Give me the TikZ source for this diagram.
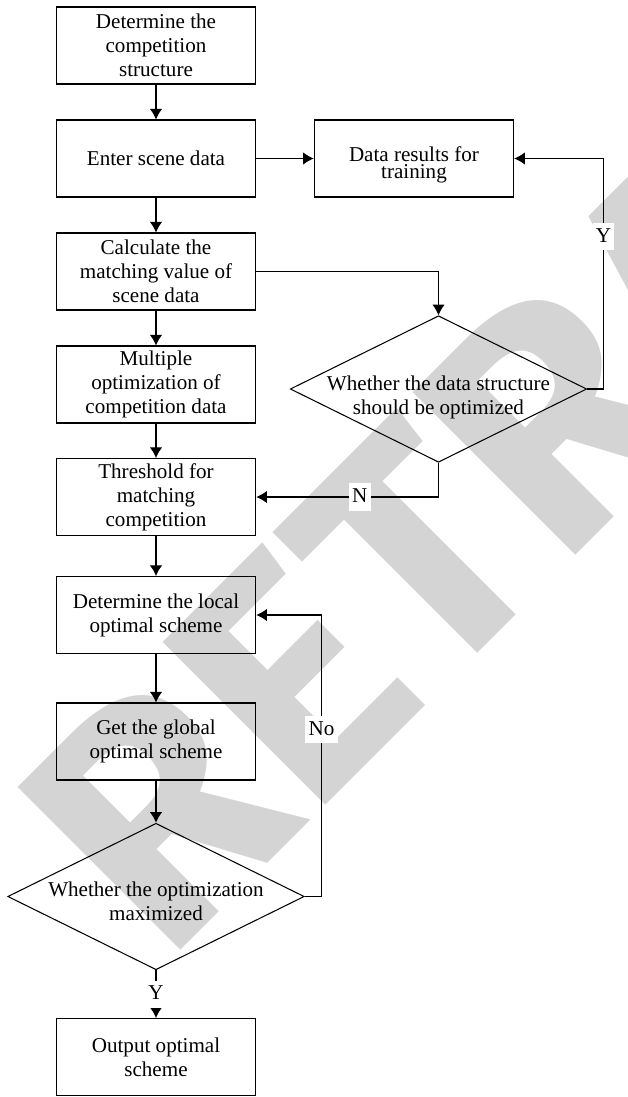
\documentclass[tikz,border=0pt]{standalone}
\usepackage{fontspec}
\setmainfont{Liberation Serif}
\newfontfamily\wmfont{Fira Sans}
\usetikzlibrary{shapes.geometric,arrows.meta}

\definecolor{wmgray}{RGB}{212,212,212}

\tikzset{
  box/.style={draw, rectangle, line width=0.6pt, minimum width=3.99cm,
    minimum height=1.54cm, align=center, inner sep=0pt},
  dia/.style={draw, diamond, line width=0.6pt, minimum width=5.93cm,
    minimum height=2.93cm, inner sep=0pt},
  txt/.style={align=center, inner sep=0pt},
  lbl/.style={fill=white, inner xsep=1.8pt, inner ysep=1.5pt,
    text height=9.5pt, text depth=3pt},
  arr/.style={->, >={Latex[length=6pt,width=7pt]}, line width=0.6pt},
  wm/.style={anchor=base west, rotate=45, inner sep=0pt, text=wmgray,
    font=\wmfont\bfseries\fontsize{189}{189}\selectfont}
}

\begin{document}
\begin{tikzpicture}[font=\fontsize{12}{13.6}\selectfont]

\useasboundingbox (0,0) rectangle (12.56,-21.94);

% watermark
\begin{scope}
\clip (0,0) rectangle (12.56,-21.94);
\node[wm] (wmark) at (3.30,-19.32) {RETRACTED};
\end{scope}

\node[box] (B1) at (3.12,-0.91)
{Determine the\\competition\\structure};%

\node[box] (B2) at (3.12,-3.17)
{Enter scene data};%

\node[box] (R) at (8.28,-3.17) {};%
\node[txt, font=\fontsize{12}{9.6}\selectfont] (Rt) at ([yshift=-0.12cm]R.center)
{Data results for\\training};%

\node[box] (B3) at (3.12,-5.43)
{Calculate the\\matching value of\\scene data};%

\node[box] (B4) at (3.12,-7.69)
{Multiple\\optimization of\\competition data};%

\node[box] (B5) at (3.12,-9.94)
{Threshold for\\matching\\competition};%

\node[box] (B6) at (3.12,-12.30)
{Determine the local\\optimal scheme};%

\node[box] (B7) at (3.12,-14.83)
{Get the global\\optimal scheme};%

\node[box] (B8) at (3.12,-21.14)
{Output optimal\\scheme};%


\node[dia] (D1) at (8.77,-7.78) {};%
\node[txt] (D1t) at ([yshift=-0.16cm]D1.center)
{Whether the data structure\\should be optimized};%

\node[dia] (D2) at (3.12,-17.93) {};%
\node[txt] (D2t) at ([yshift=-0.1cm]D2.center)
{Whether the optimization\\maximized};%

\coordinate (YC) at (12.07,-7.78);
\coordinate (NC) at (6.43,-17.93);

\draw[arr] (B1) -- (B2);
\draw[arr] (B2) -- (R);
\draw[arr] (B2) -- (B3);
\draw[arr] (B3) -- (B4);
\draw[arr] (B4) -- (B5);
\draw[arr] (B5) -- (B6);
\draw[arr] (B6) -- (B7);
\draw[arr] (B7) -- (D2);
\draw[arr] (B3.east) -| (D1.north);
\draw[arr] (D1.east) -- (YC) |- node[lbl, pos=0.33] (LY) {Y} (R.east);
\draw[arr] (D1.south) |- node[lbl, pos=0.716] (LN) {N} (B5.east);
\draw[arr] (D2.east) -- (NC) |- node[lbl, pos=0.296] (LNo) {No} (B6.east);
\draw[arr] (D2) -- node[lbl, midway] (LY2) {Y} (B8);

\end{tikzpicture}
\end{document}
